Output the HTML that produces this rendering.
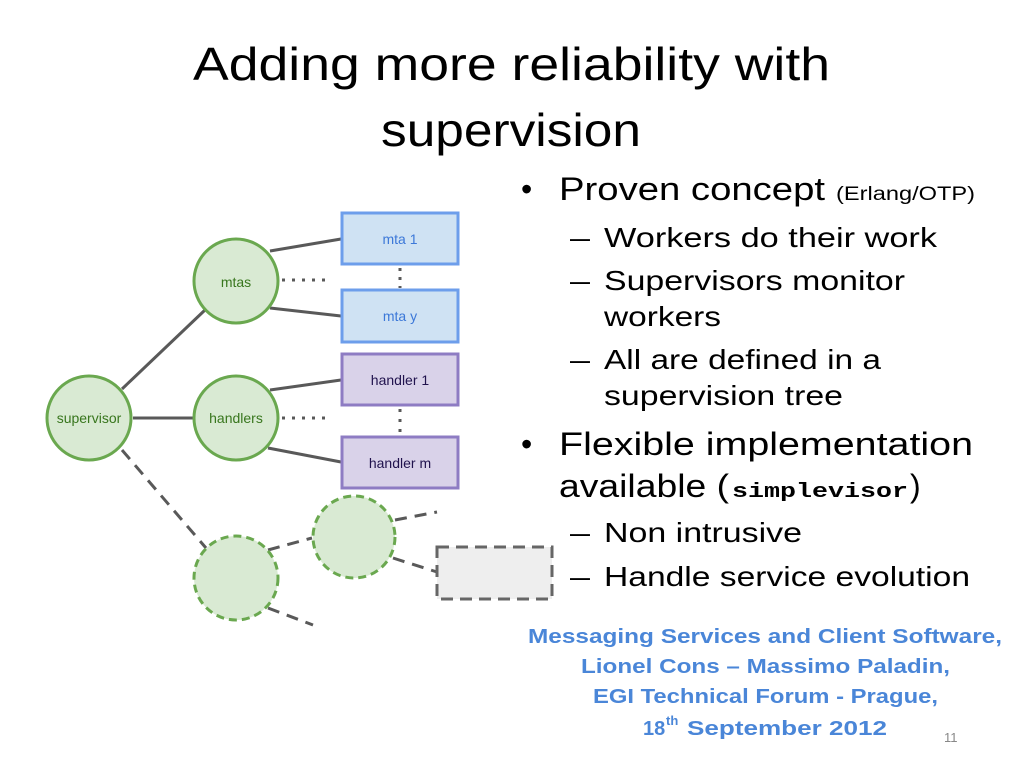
<!DOCTYPE html>
<html><head><style>
html,body{margin:0;padding:0;background:#fff;width:1024px;height:768px;overflow:hidden}
svg{display:block}
</style></head><body>
<svg width="1024" height="768" viewBox="0 0 1024 768" xmlns="http://www.w3.org/2000/svg" font-family="Liberation Sans, Arial, sans-serif">
<rect width="1024" height="768" fill="#fff"/>
<!-- title -->
<text x="193" y="80" font-size="46" fill="#000" textLength="637" lengthAdjust="spacingAndGlyphs">Adding more reliability with</text>
<text x="381" y="146" font-size="46" fill="#000" textLength="260" lengthAdjust="spacingAndGlyphs">supervision</text>

<!-- connectors -->
<g stroke="#595959" stroke-width="3" fill="none">
<line x1="122" y1="389" x2="205" y2="310"/>
<line x1="133" y1="418" x2="193" y2="418"/>
<line x1="270" y1="251" x2="341" y2="239"/>
<line x1="270" y1="308" x2="341" y2="316"/>
<line x1="270" y1="390" x2="341" y2="380"/>
<line x1="268" y1="448" x2="341" y2="462"/>
</g>
<g stroke="#595959" stroke-width="3" fill="none" stroke-dasharray="3 7">
<line x1="282" y1="280" x2="330" y2="280"/>
<line x1="282" y1="418" x2="330" y2="418"/>
<line x1="400" y1="268" x2="400" y2="288" stroke-dasharray="3 6"/>
<line x1="400" y1="409" x2="400" y2="434" stroke-dasharray="3 7"/>
</g>
<g stroke="#595959" stroke-width="3" fill="none" stroke-dasharray="12 8">
<line x1="122" y1="450" x2="206" y2="548"/>
<line x1="268" y1="550" x2="312" y2="538"/>
<line x1="395" y1="520" x2="437" y2="512"/>
<line x1="393" y1="558" x2="437" y2="572"/>
<line x1="268" y1="608" x2="313" y2="625"/>
</g>

<!-- nodes -->
<g fill="#d9ead3" stroke="#6aa84f" stroke-width="3">
<circle cx="89" cy="418" r="42"/>
<circle cx="236" cy="281" r="42"/>
<circle cx="236" cy="418" r="42"/>
</g>
<g fill="#d9ead3" stroke="#6aa84f" stroke-width="3" stroke-dasharray="8 5">
<circle cx="236" cy="578" r="42"/>
<circle cx="354" cy="537" r="41"/>
</g>
<rect x="437" y="547" width="115" height="52" fill="#eeeeee" stroke="#666" stroke-width="3" stroke-dasharray="12 7"/>
<g stroke-width="3">
<rect x="342" y="213" width="116" height="51" fill="#cfe2f3" stroke="#6d9eeb"/>
<rect x="342" y="290" width="116" height="52" fill="#cfe2f3" stroke="#6d9eeb"/>
<rect x="342" y="354" width="116" height="51" fill="#d9d2e9" stroke="#8e7cc3"/>
<rect x="342" y="437" width="116" height="51" fill="#d9d2e9" stroke="#8e7cc3"/>
</g>
<g font-size="14" text-anchor="middle">
<text x="89" y="423" fill="#38761d">supervisor</text>
<text x="236" y="287" fill="#38761d">mtas</text>
<text x="236" y="423" fill="#38761d">handlers</text>
<text x="400" y="244" fill="#3c78d8">mta 1</text>
<text x="400" y="321" fill="#3c78d8">mta y</text>
<text x="400" y="385" fill="#20124d">handler 1</text>
<text x="400" y="468" fill="#20124d">handler m</text>
</g>

<!-- bullets -->
<g fill="#000">
<text x="521" y="200" font-size="32">•</text>
<text x="559" y="200" font-size="32" textLength="266" lengthAdjust="spacingAndGlyphs">Proven concept</text>
<text x="836" y="200" font-size="19" textLength="139" lengthAdjust="spacingAndGlyphs">(Erlang/OTP)</text>
<g font-size="28">
<text x="570" y="247" textLength="20" lengthAdjust="spacingAndGlyphs">–</text>
<text x="604" y="247" textLength="333" lengthAdjust="spacingAndGlyphs">Workers do their work</text>
<text x="570" y="290" textLength="20" lengthAdjust="spacingAndGlyphs">–</text>
<text x="604" y="290" textLength="301" lengthAdjust="spacingAndGlyphs">Supervisors monitor</text>
<text x="604" y="326" textLength="117" lengthAdjust="spacingAndGlyphs">workers</text>
<text x="570" y="369" textLength="20" lengthAdjust="spacingAndGlyphs">–</text>
<text x="604" y="369" textLength="277" lengthAdjust="spacingAndGlyphs">All are defined in a</text>
<text x="604" y="405" textLength="239" lengthAdjust="spacingAndGlyphs">supervision tree</text>
</g>
<text x="521" y="455" font-size="32">•</text>
<text x="559" y="455" font-size="32" textLength="414" lengthAdjust="spacingAndGlyphs">Flexible implementation</text>
<text x="559" y="497" font-size="32" textLength="170" lengthAdjust="spacingAndGlyphs">available (</text>
<text x="732" y="497" font-size="20" font-weight="bold" font-family="Liberation Mono, monospace" textLength="176" lengthAdjust="spacingAndGlyphs">simplevisor</text>
<text x="910" y="497" font-size="32">)</text>
<g font-size="28">
<text x="570" y="542" textLength="20" lengthAdjust="spacingAndGlyphs">–</text>
<text x="604" y="542" textLength="198" lengthAdjust="spacingAndGlyphs">Non intrusive</text>
<text x="570" y="586" textLength="20" lengthAdjust="spacingAndGlyphs">–</text>
<text x="604" y="586" textLength="366" lengthAdjust="spacingAndGlyphs">Handle service evolution</text>
</g>
</g>

<!-- footer -->
<g fill="#4a86d8" font-size="20" font-weight="bold">
<text x="528" y="643" textLength="474" lengthAdjust="spacingAndGlyphs">Messaging Services and Client Software,</text>
<text x="581" y="673" textLength="369" lengthAdjust="spacingAndGlyphs">Lionel Cons – Massimo Paladin,</text>
<text x="593" y="703" textLength="345" lengthAdjust="spacingAndGlyphs">EGI Technical Forum - Prague,</text>
<text x="643" y="735">18</text>
<text x="666" y="725" font-size="13">th</text>
<text x="687" y="735" textLength="200" lengthAdjust="spacingAndGlyphs">September 2012</text>
</g>
<text x="944" y="742" font-size="13" fill="#888">11</text>
</svg>
</body></html>
